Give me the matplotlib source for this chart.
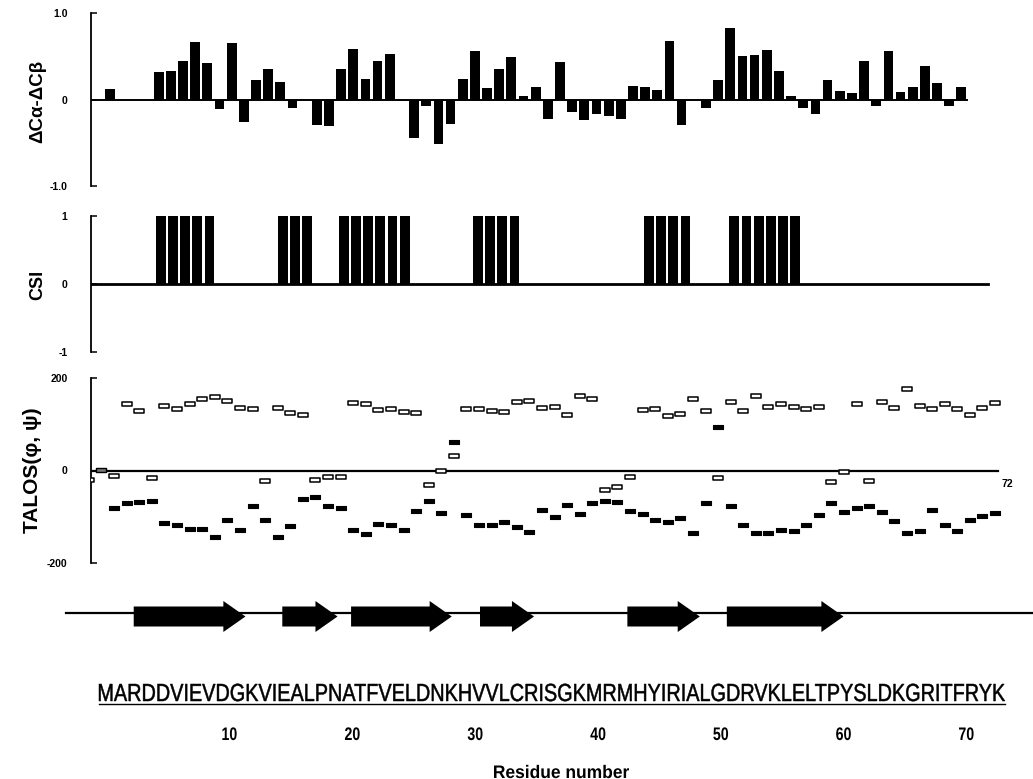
import numpy as np
import matplotlib
matplotlib.use("Agg")
import matplotlib.pyplot as plt
from matplotlib.textpath import TextPath
from matplotlib.font_manager import FontProperties
from matplotlib.patches import PathPatch, FancyArrow
from matplotlib.transforms import Affine2D
from matplotlib.markers import MarkerStyle
from matplotlib.path import Path

# ---------------- data ----------------
residues = list(range(1, 73))
dca_dcb = [0.00, 0.12, 0.00, 0.00, 0.00, 0.32, 0.33, 0.44, 0.66, 0.42,
           -0.11, 0.65, -0.26, 0.23, 0.35, 0.20, -0.10, 0.00, -0.29, -0.31,
           0.35, 0.58, 0.24, 0.45, 0.53, -0.02, -0.44, -0.08, -0.51, -0.28,
           0.24, 0.56, 0.13, 0.35, 0.49, 0.04, 0.15, -0.22, 0.43, -0.15,
           -0.24, -0.17, -0.19, -0.22, 0.16, 0.15, 0.11, 0.68, -0.30, 0.00,
           -0.10, 0.22, 0.83, 0.50, 0.52, 0.57, 0.33, 0.04, -0.10, -0.17,
           0.22, 0.10, 0.07, 0.45, -0.07, 0.56, 0.09, 0.14, 0.39, 0.19,
           -0.08, 0.14]
csi = [0, 0, 0, 0, 0, 1, 1, 1, 1, 1,
       0, 0, 0, 0, 0, 1, 1, 1, 0, 0,
       1, 1, 1, 1, 1, 1, 0, 0, 0, 0,
       0, 1, 1, 1, 1, 0, 0, 0, 0, 0,
       0, 0, 0, 0, 0, 1, 1, 1, 1, 0,
       0, 0, 1, 1, 1, 1, 1, 1, 0, 0,
       0, 0, 0, 0, 0, 0, 0, 0, 0, 0,
       0, 0]
talos_res = list(range(0, 73))
nan = np.nan
talos_phi = [nan, nan, -81, -71, -68, -65, -114, -117, -127, -127, -143,
             -107, -129, -76, -107, -143, -120, -61, -58, -76, -81,
             -128, -138, -116, -117, -128, -88, -65, -91, 61, -97,
             -118, -118, -111, -122, -134, -86, -101, -74, -94, -71,
             -65, -68, -88, -94, -108, -111, -102, -136, -71, 95,
             -76, -117, -136, -135, -128, -130, -117, -96, -71, -90,
             -81, -76, -89, -110, -135, -131, -86, -117, -130, -107,
             -99, -92]
talos_psi = [-20, nan, -12, 143, 129, -17, 140, 134, 143, 154, 160,
             150, 136, 134, -22, 136, 124, 119, -20, -15, -13,
             147, 143, 130, 132, 126, 125, -31, -2, 32, 132,
             132, 129, 126, 148, 150, 135, 138, 121, 161, 155,
             -43, -35, -13, 131, 133, 117, 123, 155, 129, -17,
             149, 129, 161, 137, 143, 137, 132, 137, -25, -3,
             143, -22, 148, 136, 176, 139, 133, 143, 133, 119,
             136, 145]
talos_amb_res = [1]
talos_amb_val = [1]
strand_start = [2.2, 14.3, 19.9, 30.4, 42.4, 50.5]
strand_end = [11.3, 18.8, 28.1, 34.8, 48.3, 60.0]
sequence = "MARDDVIEVDGKVIEALPNATFVELDNKHVVLCRISGKMRMHYIRIALGDRVKLELTPYSLDKGRITFRYK"
seq_ticks = [10, 20, 30, 40, 50, 60, 70]

# ---------------- figure ----------------
W, H = 1033, 779
fig = plt.figure(figsize=(W / 100, H / 100), dpi=100)

def fax(l, t, r, b):
    return fig.add_axes([l / W, 1 - b / H, (r - l) / W, (b - t) / H])

FP_R = FontProperties(family="Liberation Sans", weight="normal")
FP_B = FontProperties(family="Liberation Sans", weight="bold")

def style(ax, ticks, labels):
    for s in ["top", "right", "bottom"]:
        ax.spines[s].set_visible(False)
    ax.spines["left"].set_linewidth(1.3)
    ax.set_yticks(ticks)
    ax.set_yticklabels(labels, fontproperties=FP_B, fontsize=7.5)
    ax.tick_params(axis="y", direction="in", length=4, width=1.1, pad=17)
    ax.set_xticks([])
    ax.patch.set_alpha(0)

# top panel
ax1 = fax(91, 13, 1010, 186)
ax1.bar(residues, dca_dcb, width=0.8, color="black", linewidth=0)
ax1.plot([0.44, 72.5], [0, 0], color="black", lw=1.4)
ax1.set_xlim(0.436, 76.0)
ax1.set_ylim(-1, 1)
style(ax1, [-1, 0, 1], ["-1.0", "0", "1.0"])

# CSI panel
ax2 = fax(91, 216, 1010, 352)
ax2.bar(residues, csi, width=0.8, color="black", linewidth=0)
ax2.plot([0.29, 73.8], [0, 0], color="black", lw=2.0)
ax2.set_xlim(0.29, 75.6)
ax2.set_ylim(-1, 1)
style(ax2, [-1, 0, 1], ["-1", "0", "1"])

# TALOS panel
ax3 = fax(91, 378, 1010, 563)
rect = Path([(-1, -0.48), (1, -0.48), (1, 0.48), (-1, 0.48), (-1, -0.48)],
            [Path.MOVETO, Path.LINETO, Path.LINETO, Path.LINETO, Path.CLOSEPOLY])
mk = MarkerStyle(rect)
ax3.plot([0.17, 72.24], [0, 0], color="black", lw=1.6, zorder=1)
ax3.plot(talos_res, talos_phi, ls="none", marker=mk, ms=7.5,
         mfc="black", mec="black", mew=0.8, zorder=3)
ax3.plot(talos_res, talos_psi, ls="none", marker=mk, ms=7.2,
         mfc="white", mec="black", mew=1.1, zorder=3)
ax3.plot(talos_amb_res, talos_amb_val, ls="none", marker=mk, ms=7.5,
         mfc="#777777", mec="black", mew=1.0, zorder=3)
ax3.text(73.0, -30, "72", fontproperties=FP_B, fontsize=7.5, ha="center", va="center")
ax3.set_xlim(0.167, 73.19)
ax3.set_ylim(-200, 200)
style(ax3, [-200, 0, 200], ["-200", "0", "200"])

# y labels
fig.text(38 / W, 1 - 101 / H, "ΔCα-ΔCβ", rotation=90, ha="center", va="center",
         fontproperties=FP_B, fontsize=13.5)
fig.text(38 / W, 1 - 285 / H, "CSI", rotation=90, ha="center", va="center",
         fontproperties=FP_B, fontsize=13)
fig.text(33 / W, 1 - 470 / H, "TALOS(φ, ψ)", rotation=90, ha="center", va="center",
         fontproperties=FP_B, fontsize=15)

# bottom: secondary structure, sequence, residue ticks
axb = fax(0, 580, W, H)
axb.set_xlim((0 - 106.7) / 12.28, (W - 106.7) / 12.28)
axb.set_ylim(H, 580)
axb.axis("off")
axb.axhline(613, xmin=66 / W, xmax=1.0, color="black", lw=1.6)
for s0, s1 in zip(strand_start, strand_end):
    axb.add_patch(FancyArrow(s0, 616.5, s1 - s0, 0, width=20, head_width=31,
                             head_length=1.8, length_includes_head=True,
                             color="black", lw=0))

def path_text(s, x_px, base_px, cap_px, fp, width_px=None, squeeze=1.0, ha="left", ew=0.0):
    tp = TextPath((0, 0), s, size=100, prop=fp)
    cap = TextPath((0, 0), "H", size=100, prop=fp).get_extents().height
    ext = tp.get_extents()
    sy = cap_px / cap
    sx = width_px / ext.width if width_px else sy * squeeze
    w = ext.width * sx
    x0 = x_px if ha == "left" else x_px - w / 2
    tr = Affine2D().translate(-ext.x0, 0).scale(sx, sy).translate(x0, H - base_px)
    fig.add_artist(PathPatch(tp, transform=tr, fc="black", ec="black", lw=ew))

path_text(sequence, 99, 701, 17, FP_R, width_px=906, ew=0.35)
fig.add_artist(plt.Line2D([99 / W, 1005 / W], [1 - 704 / H, 1 - 704 / H],
                          color="black", lw=1.0))
for v in seq_ticks:
    xp = axb.transData.transform((v, 0))[0]
    path_text(str(v), xp, 740, 12.5, FP_B, squeeze=0.78, ha="center")
path_text("Residue number", W / 2 + 45, 778, 12.5, FP_B, width_px=135, ha="center")

fig.savefig("out.png", dpi=100, facecolor="white")
